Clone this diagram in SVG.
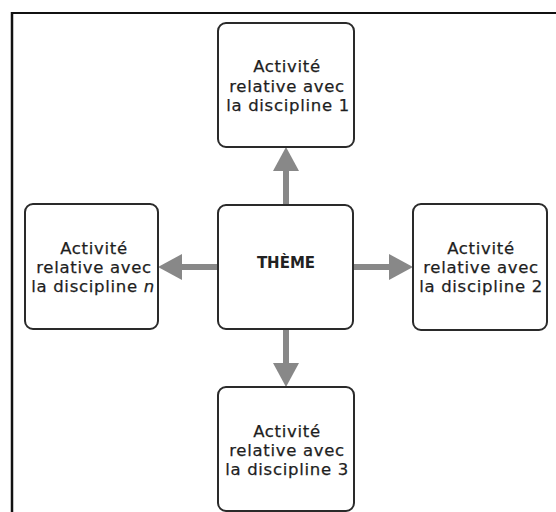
<svg xmlns="http://www.w3.org/2000/svg" width="556" height="512" viewBox="0 0 556 512">
<style>
.box{fill:#fff;stroke:#2a2a2a;stroke-width:2}
.lbl{font-family:"DejaVu Sans",sans-serif;font-size:16.5px;letter-spacing:0.7px;fill:#1e1e1e;stroke:#1e1e1e;stroke-width:0.25;text-anchor:middle}
.ttl{font-family:"DejaVu Sans",sans-serif;font-size:15px;font-weight:bold;fill:#222;text-anchor:middle}
.conn{stroke:#888;stroke-width:6;fill:none}
</style>
<defs>
<marker id="ah" markerUnits="userSpaceOnUse" markerWidth="24" markerHeight="26" refX="0" refY="13" orient="auto" viewBox="0 0 24 26">
<path d="M0,0 L24,13 L0,26 z" fill="#888"/>
</marker>
</defs>
<rect x="0" y="0" width="556" height="512" fill="#fff"/>
<g id="frame">
<line x1="11" y1="13" x2="556" y2="13" stroke="#111" stroke-width="2"/>
<line x1="12" y1="12" x2="12" y2="512" stroke="#111" stroke-width="2.5"/>
</g>
<g id="connectors">
<line class="conn" x1="286" y1="205" x2="286" y2="171" marker-end="url(#ah)"/>
<line class="conn" x1="353" y1="267" x2="389" y2="267" marker-end="url(#ah)"/>
<line class="conn" x1="218" y1="267" x2="182" y2="267" marker-end="url(#ah)"/>
<line class="conn" x1="286" y1="329" x2="286" y2="363" marker-end="url(#ah)"/>
</g>
<g id="theme">
<rect class="box" x="218" y="205" width="135" height="124" rx="8"/>
<text class="ttl" x="286" y="268">THÈME</text>
</g>
<g id="discipline1">
<rect class="box" x="218" y="23" width="136" height="124" rx="8"/>
<text class="lbl" x="287" y="72">Activité</text>
<text class="lbl" x="287" y="92">relative avec</text>
<text class="lbl" x="288" y="111">la discipline 1</text>
</g>
<g id="disciplineN">
<rect class="box" x="25" y="204" width="133" height="125" rx="8"/>
<text class="lbl" x="94" y="254">Activité</text>
<text class="lbl" x="94" y="273">relative avec</text>
<text class="lbl" x="93" y="292">la discipline <tspan font-style="italic">n</tspan></text>
</g>
<g id="discipline2">
<rect class="box" x="413" y="204" width="134" height="126" rx="8"/>
<text class="lbl" x="481" y="254">Activité</text>
<text class="lbl" x="481" y="273">relative avec</text>
<text class="lbl" x="481" y="292">la discipline 2</text>
</g>
<g id="discipline3">
<rect class="box" x="218" y="387" width="136" height="124" rx="8"/>
<text class="lbl" x="287" y="437">Activité</text>
<text class="lbl" x="287" y="456">relative avec</text>
<text class="lbl" x="287" y="475">la discipline 3</text>
</g>
</svg>
